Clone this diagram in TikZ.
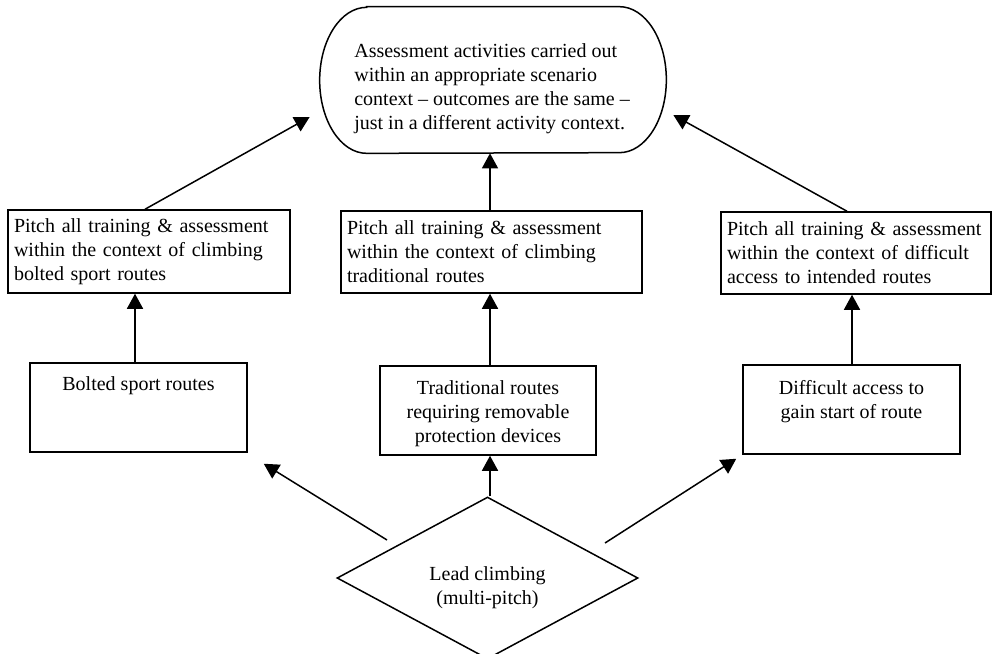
\documentclass[tikz,border=0pt]{standalone}
\usepackage{fontspec}
\setmainfont{Liberation Serif}
\usetikzlibrary{arrows.meta,shapes.geometric}
\begin{document}
\begin{tikzpicture}[x=0.6pt,y=-0.6pt,
  font=\fontsize{12pt}{14.4pt}\selectfont,
  box/.style={draw,line width=0.9pt,inner sep=0pt},
  tbox/.style={box,inner xsep=3.6pt,align=left},
  arr/.style={line width=0.9pt,-{Triangle[length=9pt,width=9.6pt]}},
  txt/.style={inner sep=0pt}]
\useasboundingbox (0,0) rectangle (992,653);

% top stadium
\node[minimum width=207.6pt,minimum height=87.6pt,inner sep=0pt] (top) at (493,80) {};
\draw[line width=0.9pt] ([xshift=28.2pt]top.north west) -- ([xshift=-28.2pt]top.north east)
  arc[start angle=90,end angle=-90,x radius=28.2pt,y radius=43.8pt]
  -- ([xshift=28.2pt]top.south west)
  arc[start angle=270,end angle=90,x radius=28.2pt,y radius=43.8pt] -- cycle;
\node[txt,align=left,anchor=north west] (toptext) at (354,43)
  {Assessment activities carried out\\ within an appropriate scenario\\ context – outcomes are the same –\\ just in a different activity context.};

% middle row
\node[tbox,minimum width=169.2pt,minimum height=49.8pt,text width=162pt] (L1) at (149,251.5)
  {Pitch all training \& assessment\\ within the context of climbing\\ bolted sport routes};
\node[tbox,minimum width=180.6pt,minimum height=49.2pt,text width=173.4pt] (M1) at (491.5,252)
  {Pitch all training \& assessment\\ within the context of climbing\\ traditional routes};
\node[tbox,minimum width=162pt,minimum height=49.2pt,text width=154.8pt] (R1) at (856,253)
  {Pitch all training \& assessment\\ within the context of difficult\\ access to intended routes};

% bottom row
\node[box,minimum width=130.2pt,minimum height=53.4pt] (L2) at (138.5,407.5) {};
\node[txt,align=center,anchor=north] (L2t) at ([yshift=-8.6pt]L2.north) {Bolted sport routes};
\node[box,minimum width=129.6pt,minimum height=53.4pt] (M2) at (488,410.5) {};
\node[txt,align=center,anchor=north] (M2t) at ([yshift=-9pt]M2.north)
  {Traditional routes\\ requiring removable\\ protection devices};
\node[box,minimum width=130.2pt,minimum height=53.4pt] (R2) at (851.5,409.5) {};
\node[txt,align=center,anchor=north] (R2t) at ([yshift=-9.3pt]R2.north)
  {Difficult access to\\ gain start of route};

% diamond
\node[draw,diamond,line width=0.9pt,minimum width=180.6pt,minimum height=97.2pt,inner sep=0pt] (D) at (487.5,578) {};
\node[txt,align=center] (Dt) at (487.5,588) {Lead climbing\\ (multi-pitch)};

% connector ends
\coordinate (a1e) at ([shift={(-10,37)}]top.west);
\coordinate (a3e) at ([shift={(7,35)}]top.east);
\coordinate (dls) at ([shift={(-100.5,-38)}]D.center);
\coordinate (dle) at ([shift={(16,11)}]L2.south east);
\coordinate (drs) at ([shift={(117.5,-35)}]D.center);
\coordinate (dre) at ([shift={(-6,4)}]R2.south west);

% connectors
\draw[arr] ([xshift=-2.4pt]L1.north) -- (a1e);
\draw[arr] ([xshift=-0.9pt]M1.north) -- ([xshift=-0.9pt]M1.north |- top.south);
\draw[arr] ([xshift=-5.4pt]R1.north) -- (a3e);
\draw[arr] ([xshift=-2.1pt]L2.north) -- ([xshift=-2.1pt]L2.north |- L1.south);
\draw[arr] ([xshift=1.2pt]M2.north) -- ([xshift=1.2pt]M2.north |- M1.south);
\draw[arr] ([xshift=0.3pt]R2.north) -- ([xshift=0.3pt]R2.north |- R1.south);
\draw[arr] ([xshift=1.5pt]D.north) -- ([xshift=1.5pt]D.north |- M2.south);
\draw[arr] (dls) -- (dle);
\draw[arr] (drs) -- (dre);
\end{tikzpicture}
\end{document}
